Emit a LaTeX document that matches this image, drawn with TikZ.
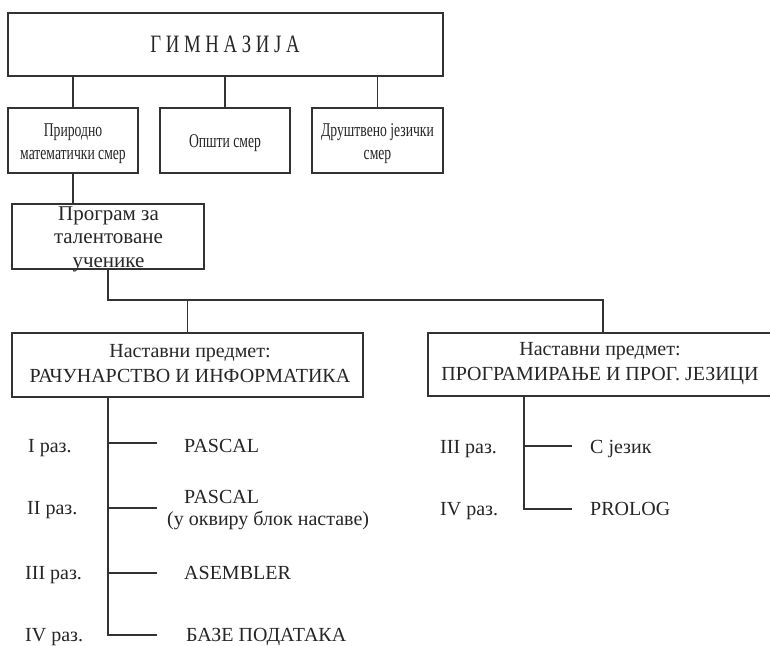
\documentclass[tikz,border=0pt]{standalone}
\usepackage{fontspec}
\setmainfont{Liberation Serif}
\newfontfamily\titlefont[FakeStretch=0.75]{Liberation Serif}
\newfontfamily\narrowfont[FakeStretch=0.7]{Liberation Serif}
\begin{document}
\begin{tikzpicture}[x=1pt,y=-1pt,
  box/.style={draw=black!80,line width=1.4pt,inner sep=0pt,fill=white},
  conn/.style={draw=black!80,line width=1.4pt},
  txt/.style={inner sep=0pt,text=black!85,align=center},
  lbl/.style={inner sep=0pt,text=black!85,anchor=base west,font=\fontsize{20}{24}\selectfont}]
\useasboundingbox[fill=white] (0,0) rectangle (770,645);
% boxes
\node[box,minimum width=435pt,minimum height=63pt] (top) at (225.5,44.5) {};
\node[box,minimum width=130pt,minimum height=65pt] (pm) at (73,140.5) {};
\node[box,minimum width=130pt,minimum height=65pt] (op) at (225,140.5) {};
\node[box,minimum width=131pt,minimum height=65pt] (dj) at (377.5,140.5) {};
\node[box,minimum width=192pt,minimum height=65pt] (prog) at (108,236.5) {};
\node[box,minimum width=351pt,minimum height=64pt] (ri) at (187.5,365) {};
\node[box,minimum width=344pt,minimum height=63pt] (pj) at (600,364.5) {};
% box texts
\node[txt,font=\titlefont\fontsize{25}{30}\selectfont] (toptxt) at (225,44) {Г И М Н А З И Ј А};
\node[txt,font=\narrowfont\fontsize{19.5}{23}\selectfont] (pmtxt) at (73,144) {Природно\\математички смер};
\node[txt,font=\narrowfont\fontsize{19.5}{23}\selectfont] (optxt) at (225,143) {Општи смер};
\node[txt,font=\narrowfont\fontsize{19.5}{23}\selectfont] (djtxt) at (377.5,144) {Друштвено језички\\смер};
\node[txt,font=\fontsize{21}{23.5}\selectfont] (progtxt) at (108.5,239) {Програм за\\талентоване\\ученике};
\node[txt,font=\fontsize{20}{25}\selectfont] (ritxt) at (190,364) {Наставни предмет:\\РАЧУНАРСТВО И ИНФОРМАТИКА};
\node[txt,font=\fontsize{20}{25}\selectfont] (pjtxt) at (600,364) {Наставни предмет:\\ПРОГРАМИРАЊЕ И ПРОГ. ЈЕЗИЦИ};
% connectors upper
\draw[conn] (pm.north) -- (pm.north |- top.south);
\draw[conn] (op.north) -- (op.north |- top.south);
\draw[conn] (dj.north) -- (dj.north |- top.south);
\draw[conn] (pm.south) -- (pm.south |- prog.north);
\coordinate (jn) at (108,300);
\coordinate (jr) at (603,300);
\draw[conn] (prog.south) -- (jn) -- (jr) -- (jr |- pj.north);
\draw[conn] (ri.north) -- (ri.north |- jn);
% left tree
\coordinate (lb1) at (157,443);
\coordinate (lb2) at (157,508);
\coordinate (lb3) at (157,573);
\coordinate (lb4) at (157,635);
\draw[conn] (jn |- ri.south) -- (jn |- lb4) -- (lb4);
\draw[conn] (jn |- lb1) -- (lb1);
\draw[conn] (jn |- lb2) -- (lb2);
\draw[conn] (jn |- lb3) -- (lb3);
% right tree
\coordinate (rb1) at (572,446);
\coordinate (rb2) at (572,509);
\draw[conn] (524,0 |- pj.south) -- (524,0 |- rb2) -- (rb2);
\draw[conn] (524,0 |- rb1) -- (rb1);
% labels left
\node[lbl] (l1) at (28,452) {I раз.};
\node[lbl] (l2) at (27,514) {II раз.};
\node[lbl] (l3) at (25,579) {III раз.};
\node[lbl] (l4) at (25,641) {IV раз.};
\node[lbl] (t1) at (184,452) {PASCAL};
\node[lbl] (t2) at (184,503) {PASCAL};
\node[lbl] (t2b) at (167,525) {(у оквиру блок наставе)};
\node[lbl] (t3) at (184,579) {ASEMBLER};
\node[lbl] (t4) at (186,641) {БАЗЕ ПОДАТАКА};
% labels right
\node[lbl] (r1) at (440,453) {III раз.};
\node[lbl] (r2) at (440,515) {IV раз.};
\node[lbl] (s1) at (590,453) {С језик};
\node[lbl] (s2) at (590,515) {PROLOG};
\end{tikzpicture}
\end{document}
